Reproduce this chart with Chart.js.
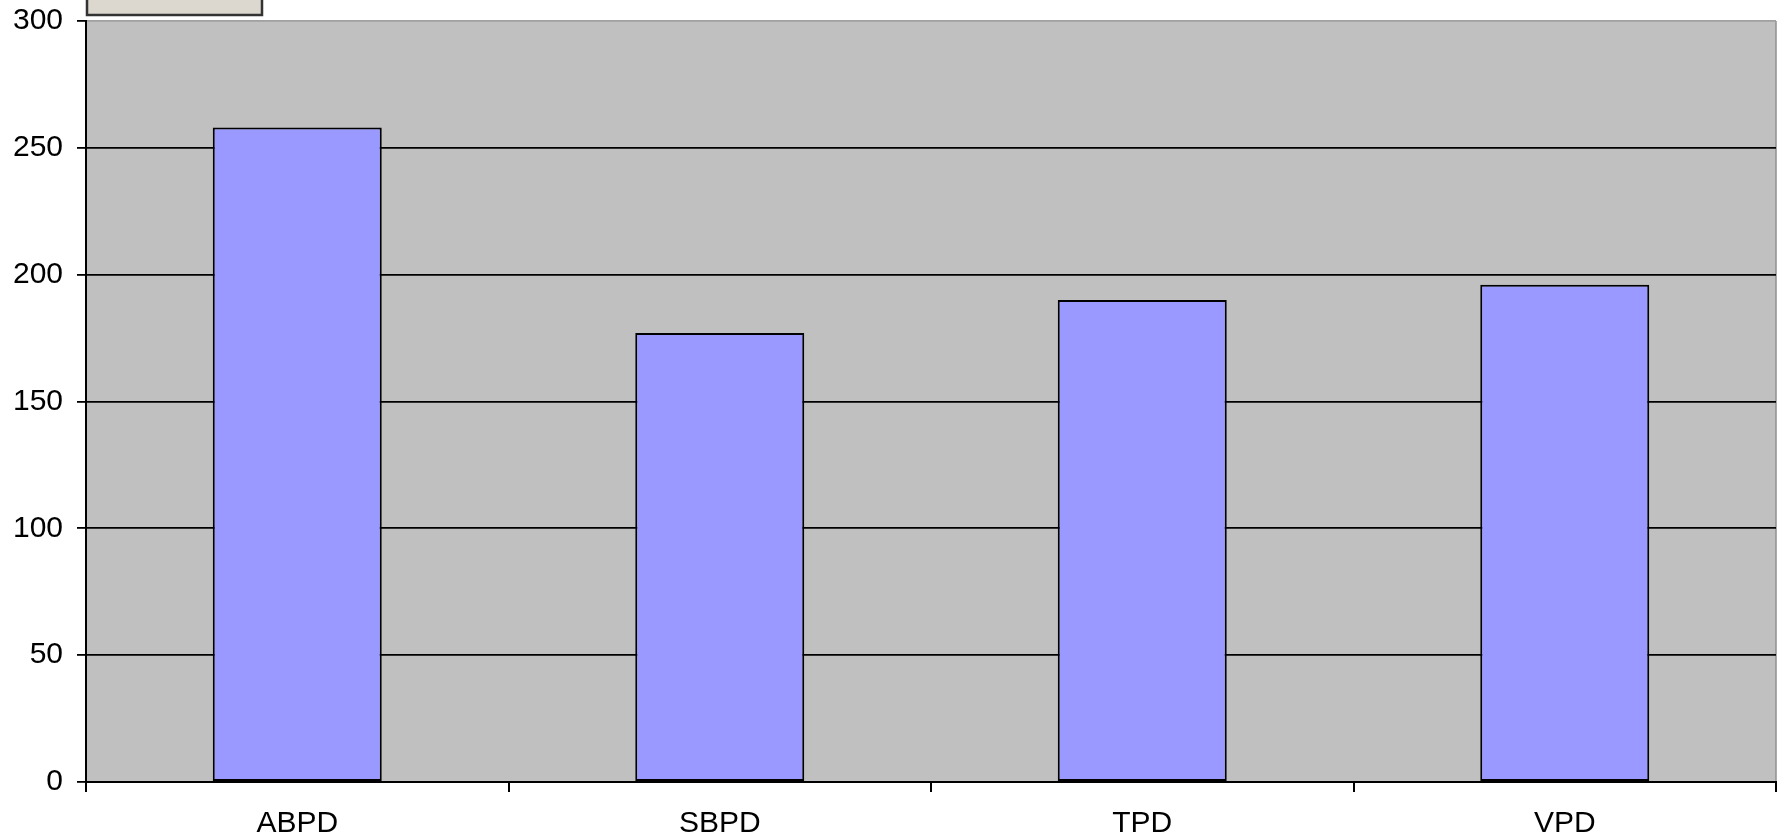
<!DOCTYPE html>
<html>
<head>
<meta charset="utf-8">
<script src="https://cdn.jsdelivr.net/npm/chart.js@4"></script>
<style>
    body { margin: 0; background: #ffffff; }
    canvas { display: block; }
</style>
</head>
<body>
<canvas id="barChart" width="1788" height="836"></canvas>
<script>
// Chart data
const categories = ['ABPD', 'SBPD', 'TPD', 'VPD'];
const values = [258, 177, 190, 196];
const yTicks = [0, 50, 100, 150, 200, 250, 300];

Chart.defaults.font.family = "'Liberation Sans', Arial, sans-serif";
Chart.defaults.color = '#000000';

// grey plot area + clipped legend box at the top
const plotBackground = {
    id: 'plotBackground',
    beforeDraw(chart) {
        const { ctx, chartArea } = chart;
        ctx.save();
        ctx.fillStyle = '#c0c0c0';
        ctx.fillRect(chartArea.left, chartArea.top, chartArea.right - chartArea.left, chartArea.bottom - chartArea.top);
        ctx.strokeStyle = '#909090';
        ctx.lineWidth = 1.5;
        ctx.beginPath();
        ctx.moveTo(chartArea.right, chartArea.top);
        ctx.lineTo(chartArea.right, chartArea.bottom);
        ctx.stroke();
        // legend fragment
        ctx.fillStyle = '#dcd8d0';
        ctx.fillRect(87, -4, 175, 19);
        ctx.strokeStyle = '#333333';
        ctx.lineWidth = 2.5;
        ctx.strokeRect(87, -4, 175, 19);
        ctx.restore();
    }
};

new Chart(document.getElementById('barChart').getContext('2d'), {
    type: 'bar',
    data: {
        labels: categories,
        datasets: [{
            data: values,
            backgroundColor: '#9999ff',
            borderColor: '#000000',
            borderWidth: 2,
            borderSkipped: false,
            categoryPercentage: 1,
            barPercentage: 0.4
        }]
    },
    options: {
        responsive: false,
        animation: false,
        layout: { padding: { top: 21, right: 12, left: 0, bottom: 0 } },
        plugins: {
            legend: { display: false },
            tooltip: { enabled: false }
        },
        scales: {
            y: {
                min: 0,
                max: 300,
                afterBuildTicks(scale) {
                    scale.ticks = yTicks.map(v => ({ value: v }));
                },
                afterFit(scale) {
                    scale.width = 86;
                    scale.paddingTop = 0;
                    scale.paddingBottom = 0;
                },
                ticks: {
                    font: { size: 30 },
                    padding: 14
                },
                grid: {
                    color: ctx => ctx.tick && ctx.tick.value === 300 ? '#a0a0a0' : '#000000',
                    lineWidth: 1.8,
                    tickLength: 9,
                    tickColor: '#000000'
                },
                border: { color: '#000000', width: 2 }
            },
            x: {
                afterFit(scale) { scale.height = 54; },
                ticks: {
                    font: { size: 30 },
                    padding: 14
                },
                grid: {
                    offset: true,
                    drawOnChartArea: false,
                    tickLength: 10,
                    color: '#000000',
                    lineWidth: 2
                },
                border: { color: '#000000', width: 2 }
            }
        }
    },
    plugins: [plotBackground]
});
</script>
</body>
</html>
